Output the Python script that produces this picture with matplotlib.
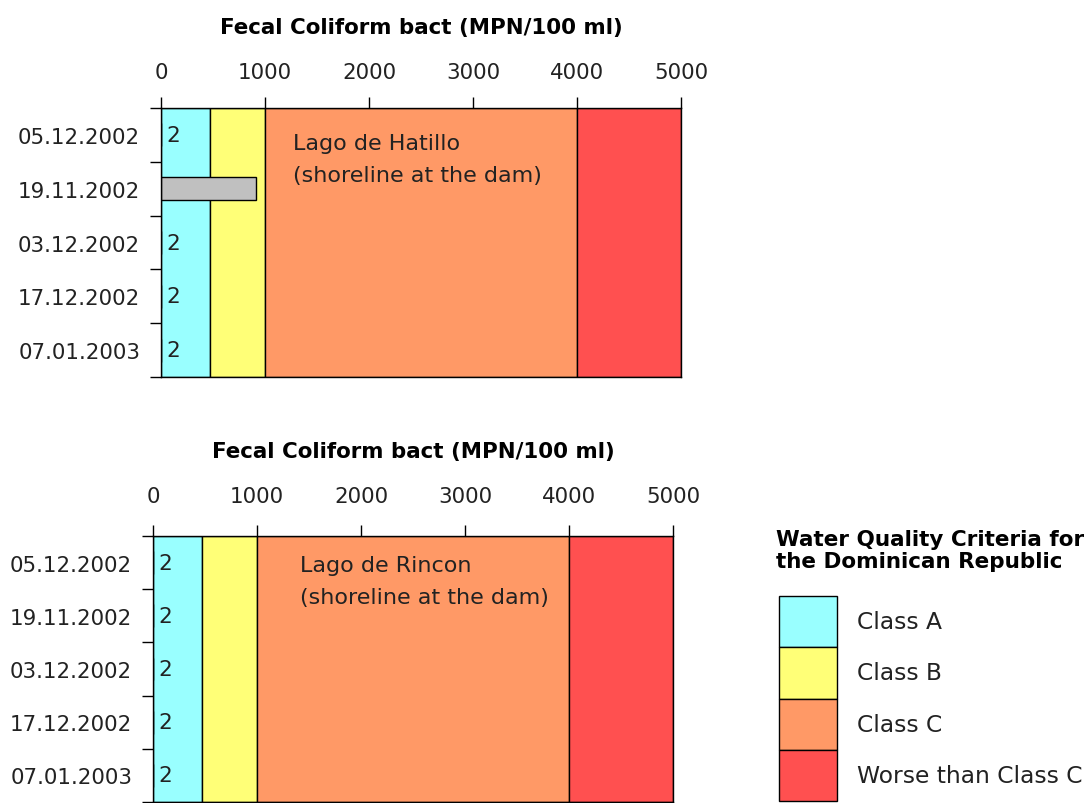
import matplotlib
matplotlib.use('Agg')
import matplotlib.pyplot as plt

plt.rcParams['font.family'] = ['DejaVu Sans']

# data
dates = ['05.12.2002', '19.11.2002', '03.12.2002', '17.12.2002', '07.01.2003']
hatillo = [2, 910, 2, 2, 2]
rincon = [2, 2, 2, 2, 2]
lakes = ['Lago de Hatillo\n(shoreline at the dam)', 'Lago de Rincon\n(shoreline at the dam)']

class_names = ['Class A', 'Class B', 'Class C', 'Worse than Class C']
class_edges = [0, 475, 1000, 4000, 5000]
class_colors = ['#99FFFF', '#FFFF77', '#FF9966', '#FF5050']
xticks = [0, 1000, 2000, 3000, 4000, 5000]
axis_title = 'Fecal Coliform bact (MPN/100 ml)'

TXT = '#222222'


def draw_panel(ax, values, lake, lake_x, lake_y, title_y, xpad):
    n = len(dates)
    for lo, hi, c in zip(class_edges[:-1], class_edges[1:], class_colors):
        ax.axvspan(lo, hi, color=c, ec='black', lw=1, zorder=0)
    pos = list(range(n))
    ax.barh(pos, values, height=0.43, color='#C0C0C0', ec='black', lw=1, zorder=2)
    for p, v in zip(pos, values):
        if v < 100:
            ax.text(v + 50, p, str(v), va='center', ha='left', fontsize=15.5, color=TXT, zorder=3)
    ax.text(lake_x, lake_y, lake, va='center', ha='left', fontsize=16, color=TXT,
            linespacing=1.75, zorder=3)

    ax.set_xlim(0, 5000)
    ax.set_ylim(n - 0.5, -0.5)
    ax.xaxis.tick_top()
    ax.set_xticks(xticks)
    ax.set_xticklabels([str(t) for t in xticks])
    ax.tick_params(axis='x', direction='out', length=8, width=1, pad=xpad, labelsize=15.4,
                   labelcolor=TXT)
    ax.set_yticks(pos)
    ax.set_yticklabels(dates)
    ax.set_yticks([p - 0.5 for p in pos] + [n - 0.5], minor=True)
    ax.tick_params(axis='y', which='major', length=0, pad=15, labelsize=15.4, labelcolor=TXT)
    ax.tick_params(axis='y', which='minor', direction='out', length=8, width=1)
    for s in ax.spines.values():
        s.set_linewidth(1)
    ax.text(0.5, title_y, axis_title, transform=ax.transAxes, ha='center', va='center',
            fontsize=15.4, fontweight='bold')


fig = plt.figure(figsize=(10.91, 8.04), dpi=100)

ax1 = fig.add_axes([161 / 1091, 1 - 378 / 804, 520 / 1091, 269 / 804])
draw_panel(ax1, hatillo, lakes[0], 1270, 0.44, 1.30, 11)

ax2 = fig.add_axes([153 / 1091, 1 - 803 / 804, 520 / 1091, 266 / 804])
draw_panel(ax2, rincon, lakes[1], 1413, 0.34, 1.32, 13.5)

# legend
fig.text(776 / 1091, 1 - 551 / 804, 'Water Quality Criteria for\nthe Dominican Republic',
         ha='left', va='center', fontsize=15.5, fontweight='bold', linespacing=1.1)
lax = fig.add_axes([779 / 1091, 1 - 802 / 804, 58 / 1091, 205 / 804])
lpos = list(range(len(class_names)))
bars = lax.barh(lpos, [1] * len(class_names), height=1, color=class_colors, ec='black', lw=1)
for b in bars:
    b.set_clip_on(False)
lax.set_xlim(0, 1)
lax.set_ylim(len(class_names) - 0.5, -0.5)
lax.axis('off')
for p, name in zip(lpos, class_names):
    lax.text(1.34, p, name, va='center', ha='left', fontsize=16.8, color=TXT)

fig.savefig('out.png', dpi=100)
